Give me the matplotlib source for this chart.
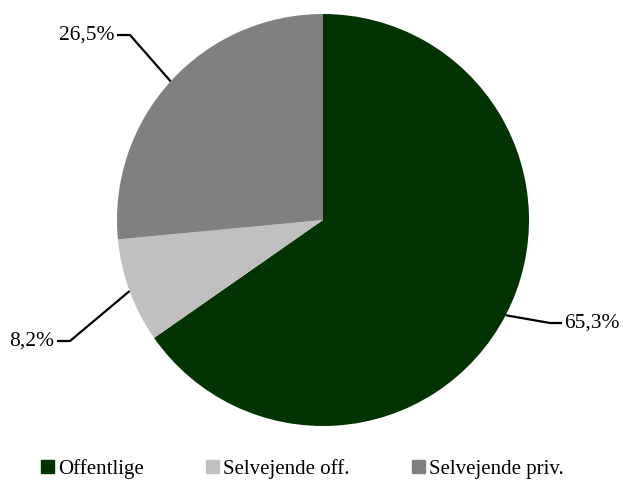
import matplotlib.pyplot as plt
import numpy as np

# Share by category
labels = ["Offentlige", "Selvejende off.", "Selvejende priv."]
values = [65.3, 8.2, 26.5]
colors = ["#003300", "#c0c0c0", "#808080"]
value_texts = ["65,3%", "8,2%", "26,5%"]

plt.rcParams['font.family'] = ['Liberation Serif', 'DejaVu Serif']

fig = plt.figure(figsize=(6.23, 4.8), dpi=100)
ax = fig.add_axes([0, 0, 1, 1])

cx, cy, r = 323, 260, 206
wedges, _ = ax.pie(values, colors=colors, startangle=90, counterclock=False,
                   center=(cx, cy), radius=r, frame=True)
ax.set_xlim(0, 623)
ax.set_ylim(0, 480)
ax.set_aspect('equal')
ax.axis('off')

# leader lines: elbow point and label position per slice
elbows = [(550, 157), (70, 139), (130, 445)]
ends = [(562, 157), (57, 139), (117, 445)]
for w, (ex, ey), (tx, ty), txt in zip(wedges, elbows, ends, value_texts):
    mid = np.deg2rad((w.theta1 + w.theta2) / 2)
    px, py = cx + r * np.cos(mid), cy + r * np.sin(mid)
    ax.plot([px, ex, tx], [py, ey, ty], color='black', lw=1.6, solid_capstyle='butt')
    ha = 'left' if tx > ex else 'right'
    ax.text(tx + (2 if ha == 'left' else -3), ty, txt, ha=ha, va='center', fontsize=15.5)

handles = [plt.Rectangle((0, 0), 1, 1, color=c) for c in colors]
fig.legend(handles, labels, loc='center left', bbox_to_anchor=(41 / 623, 11 / 480), ncol=3,
           frameon=False, fontsize=15, handlelength=0.62, handleheight=0.62,
           handletextpad=0.2, columnspacing=3.0, borderpad=0, borderaxespad=0)

plt.savefig("out.png", dpi=100)
